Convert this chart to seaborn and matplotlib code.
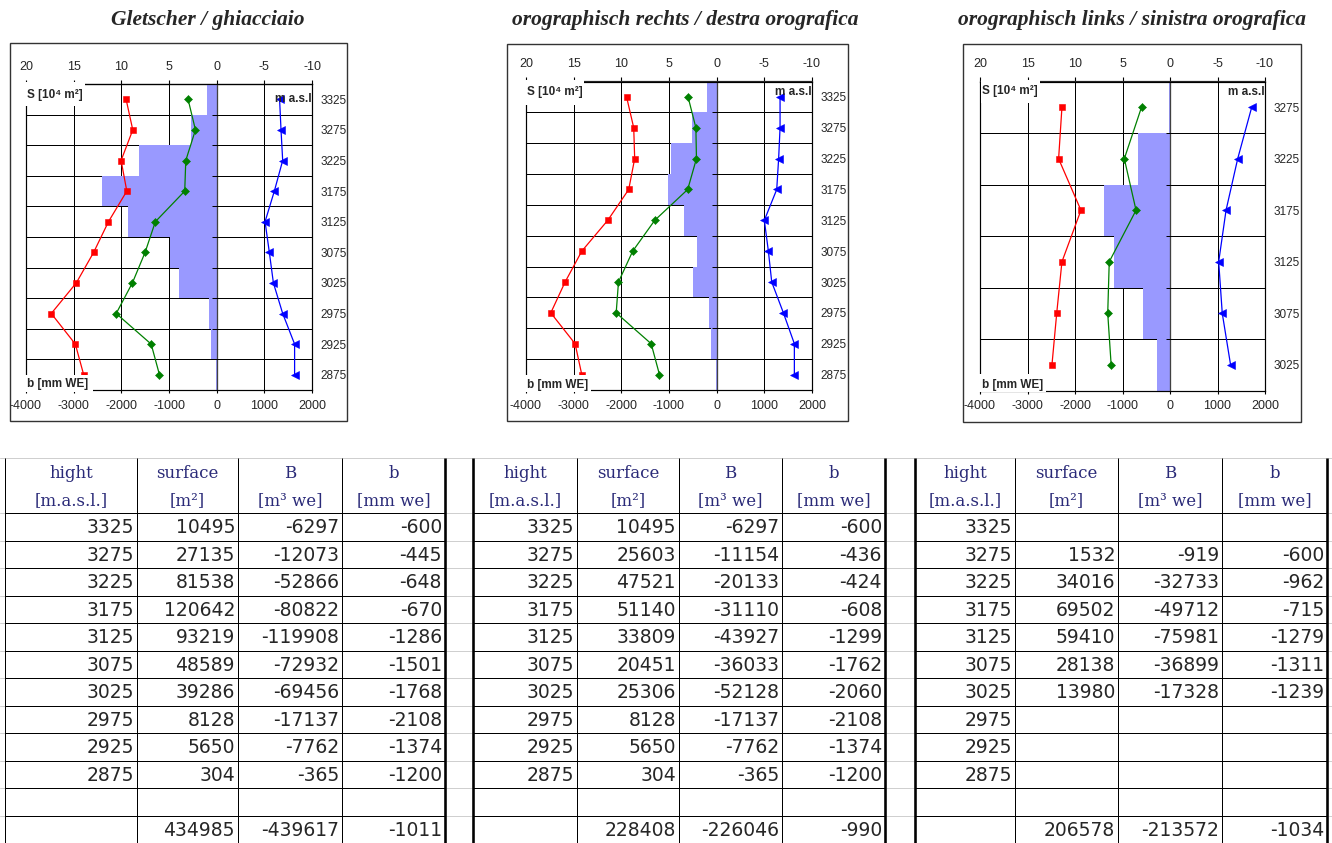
import numpy as np
import matplotlib
matplotlib.use('Agg')
import matplotlib.pyplot as plt
from matplotlib.patches import Rectangle
import seaborn as sns

# table data (height bands, surface m2, B m3 we, b mm we)
hight = [3325, 3275, 3225, 3175, 3125, 3075, 3025, 2975, 2925, 2875]

surf_glacier = [10495, 27135, 81538, 120642, 93219, 48589, 39286, 8128, 5650, 304]
B_glacier = [-6297, -12073, -52866, -80822, -119908, -72932, -69456, -17137, -7762, -365]
b_glacier = [-600, -445, -648, -670, -1286, -1501, -1768, -2108, -1374, -1200]
sum_glacier = [434985, -439617, -1011]

surf_right = [10495, 25603, 47521, 51140, 33809, 20451, 25306, 8128, 5650, 304]
B_right = [-6297, -11154, -20133, -31110, -43927, -36033, -52128, -17137, -7762, -365]
b_right = [-600, -436, -424, -608, -1299, -1762, -2060, -2108, -1374, -1200]
sum_right = [228408, -226046, -990]

surf_left = [None, 1532, 34016, 69502, 59410, 28138, 13980, None, None, None]
B_left = [None, -919, -32733, -49712, -75981, -36899, -17328, None, None, None]
b_left = [None, -600, -962, -715, -1279, -1311, -1239, None, None, None]
sum_left = [206578, -213572, -1034]

# extra profiles (mm WE), same bands as the drawn rows
red_glacier = [-1900, -1760, -2005, -1885, -2270, -2580, -2945, -3470, -2965, -2790]
blue_glacier = [1320, 1350, 1385, 1210, 1015, 1105, 1190, 1385, 1635, 1635]
red_right = [-1890, -1740, -1720, -1845, -2285, -2830, -3180, -3480, -2970, -2830]
blue_right = [1330, 1330, 1300, 1260, 1000, 1085, 1155, 1400, 1630, 1630]
red_left = [-2275, -2345, -1875, -2275, -2385, -2485]
blue_left = [1720, 1425, 1180, 1025, 1100, 1275]

titles = ['Gletscher / ghiacciaio',
          'orographisch rechts / destra orografica',
          'orographisch links / sinistra orografica']
top_ticks = [20, 15, 10, 5, 0, -5, -10]
bottom_ticks = [-4000, -3000, -2000, -1000, 0, 1000, 2000]
head1 = ['hight', 'surface', 'B', 'b']
head2 = ['[m.a.s.l.]', '[m²]', '[m³ we]', '[mm we]']

sns.set_style('white')
plt.rcParams['font.family'] = ['Liberation Sans', 'DejaVu Sans']
plt.rcParams['axes.unicode_minus'] = False

W, H = 1332, 843
fig = plt.figure(figsize=(W / 100, H / 100), dpi=100)


def frac(x0, y0, x1, y1):
    return [x0 / W, 1 - y1 / H, (x1 - x0) / W, (y1 - y0) / H]


def pt(px):
    return px * 0.72


# S axis (10^4 m2, reversed) against the b axis (mm WE)
def s_to_b(s):
    return -200.0 * np.asarray(s, dtype=float)


def b_to_s(b):
    return -np.asarray(b, dtype=float) / 200.0


def profile(rect, elev, surf, green, red, blue):
    ax = fig.add_axes(frac(*rect))
    elev = np.array(elev)
    lo, hi = elev.min() - 25, elev.max() + 25
    ax.barh(elev, s_to_b(np.array(surf) / 1e4), height=50, color='#9999ff',
            linewidth=0, zorder=1)
    for vals, col, mk, ms in [(red, '#ff0000', 's', 5),
                              (green, '#008000', 'D', 4),
                              (blue, '#0000ff', '<', 5.5)]:
        sns.lineplot(x=vals, y=elev, orient='y', estimator=None, color=col,
                     marker=mk, markersize=ms, markeredgecolor=col,
                     markeredgewidth=0.4, linewidth=0.9, ax=ax, zorder=4,
                     legend=False)
    bounds = np.arange(lo, hi + 1, 50)
    ax.axvline(0, color='#404040', lw=pt(1.3), zorder=3)
    ax.hlines(bounds, -90, 90, color='black', lw=pt(1), zorder=3)
    ax.set_xlim(-4000, 2000)
    ax.set_ylim(lo, hi)
    ax.set_xticks(bottom_ticks)
    ax.set_xticklabels([str(t) for t in bottom_ticks])
    ax.set_yticks(bounds)
    ax.set_yticklabels([])
    ax.set_yticks(elev, minor=True)
    ax.set_yticklabels([str(e) for e in elev], minor=True)
    ax.tick_params(axis='x', which='both', bottom=True, length=2, pad=5,
                   labelsize=9, color='black')
    ax.tick_params(axis='y', which='both', left=False, right=False,
                   labelleft=False, labelright=True, length=0, pad=6,
                   labelsize=8.5)
    ax.grid(True, which='major', color='black', lw=pt(1))
    ax.set_axisbelow(True)
    ax.set_xlabel('')
    ax.set_ylabel('')
    for sp in ax.spines.values():
        sp.set_color('black')
        sp.set_linewidth(pt(1.2))
    sec = ax.secondary_xaxis('top', functions=(b_to_s, s_to_b))
    sec.set_xticks(top_ticks)
    sec.set_xticklabels([str(t) for t in top_ticks])
    sec.tick_params(length=3, pad=5, labelsize=9, color='black')
    sec.spines['top'].set_linewidth(pt(1.2))
    return ax


def label_box(x0, y0, x1, y1):
    fig.add_artist(Rectangle((x0 / W, 1 - y1 / H), (x1 - x0) / W, (y1 - y0) / H,
                             transform=fig.transFigure, facecolor='white',
                             edgecolor='none', zorder=5))


def ftext(x, y, s, **kw):
    fig.text(x / W, 1 - y / H, s, zorder=6, **kw)


# chart frames
for x0, y0, x1, y1 in [(10, 43, 347, 421), (507, 44, 848, 421), (963, 44, 1301, 422)]:
    fig.add_artist(Rectangle((x0 / W, 1 - y1 / H), (x1 - x0) / W, (y1 - y0) / H,
                             transform=fig.transFigure, facecolor='none',
                             edgecolor='#333333', lw=pt(1.4), zorder=7))

profile((26, 84, 312, 390), hight, surf_glacier, b_glacier, red_glacier, blue_glacier)
profile((526, 81.5, 812, 390), hight, surf_right, b_right, red_right, blue_right)
rows_left = [i for i, v in enumerate(surf_left) if v is not None]
profile((980, 81.5, 1265, 390.5), [hight[i] for i in rows_left],
        [surf_left[i] for i in rows_left], [b_left[i] for i in rows_left],
        red_left, blue_left)

bold8 = dict(fontsize=8.5, fontweight='bold', va='center')
labels_pos = [((24, 82, 85, 106), (27, 95), (24, 375, 93, 392), (27, 384), (312, 99)),
              ((524, 80, 584, 105), (527, 92), (524, 375, 591, 392), (527, 385), (812, 92)),
              ((981, 80, 1040, 103), (982, 91), (979, 374, 1046, 392), (982, 385), (1265, 92))]
for sb, st, bb, bt, mpos in labels_pos:
    label_box(*sb)
    ftext(*st, 'S [10⁴ m²]', ha='left', **bold8)
    label_box(*bb)
    ftext(*bt, 'b [mm WE]', ha='left', **bold8)
    ftext(*mpos, 'm a.s.l', ha='right', **bold8)

for tx, t in zip([208, 685, 1132], titles):
    ftext(tx, 20, t, ha='center', va='center', family='Liberation Serif',
          fontweight='bold', fontstyle='italic', fontsize=15.5)

# tables
axt = fig.add_axes([0, 0, 1, 1], zorder=-1)
axt.set_xlim(0, W)
axt.set_ylim(H, 0)
axt.axis('off')
row_y = [458] + [513 + 27.5 * i for i in range(13)]
for y in row_y:
    axt.axhline(y, color='#cfcfcf', lw=pt(1), zorder=1)

tables = [([5, 137, 238, 342, 445], surf_glacier, B_glacier, b_glacier, sum_glacier, False),
          ([473, 577, 679, 782, 885], surf_right, B_right, b_right, sum_right, True),
          ([915, 1015, 1118, 1222, 1327], surf_left, B_left, b_left, sum_left, True)]


def fmt(v):
    return '' if v is None else str(v)


for cols, surf, B, b, sums, thick_left in tables:
    for j, xc in enumerate(cols):
        lw = 1
        if j == len(cols) - 1 or (j == 0 and thick_left):
            lw = 2.6
        axt.vlines(xc, 458, H, color='black', lw=pt(lw), zorder=3)
    axt.hlines(row_y[1:], cols[0], cols[-1], color='black', lw=pt(1), zorder=2)
    for j in range(4):
        xm = (cols[j] + cols[j + 1]) / 2
        axt.text(xm, 473, head1[j], ha='center', va='center', family='DejaVu Serif',
                 fontsize=12, color='#2a2a78')
        axt.text(xm, 501, head2[j], ha='center', va='center', family='DejaVu Serif',
                 fontsize=12, color='#2a2a78')
    body = [[fmt(h), fmt(s), fmt(bb), fmt(v)] for h, s, bb, v in zip(hight, surf, B, b)]
    body.append(['', '', '', ''])
    body.append([''] + [str(v) for v in sums])
    for i, row in enumerate(body):
        yc = (row_y[i + 1] + row_y[i + 2]) / 2 + 1
        for j, s in enumerate(row):
            axt.text(cols[j + 1] - 3, yc, s, ha='right', va='center',
                     family='DejaVu Sans', fontsize=13.5, color='#262626')

fig.savefig('out.png', dpi=100)
